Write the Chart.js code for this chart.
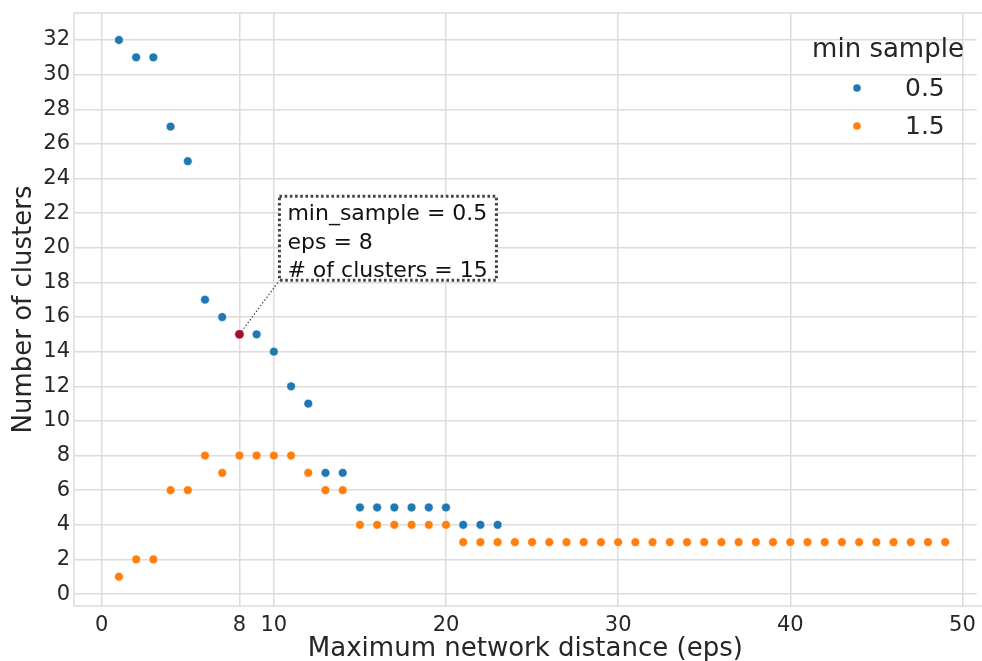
<!DOCTYPE html>
<html>
<head>
<meta charset="utf-8">
<script src="https://cdn.jsdelivr.net/npm/chart.js@4/dist/chart.umd.min.js"></script>
<style>
  html, body { margin: 0; padding: 0; background: #ffffff; overflow: hidden; }
  #wrap { position: relative; width: 982px; height: 661px; }
</style>
</head>
<body>
<div id="wrap"><canvas id="c" width="982" height="661"></canvas></div>
<script>
// ---- data ----
const epsBlue = [1,2,3,4,5,6,7,8,9,10,11,12,13,14,15,16,17,18,19,20,21,22,23];
const clustersBlue = [32,31,31,27,25,17,16,15,15,14,12,11,7,7,5,5,5,5,5,5,4,4,4];
const epsOrange = [1,2,3,4,5,6,7,8,9,10,11,12,13,14,15,16,17,18,19,20,21,22,23,24,25,26,27,28,29,30,31,32,33,34,35,36,37,38,39,40,41,42,43,44,45,46,47,48,49];
const clustersOrange = [1,2,2,6,6,8,7,8,8,8,8,7,6,6,4,4,4,4,4,4,3,3,3,3,3,3,3,3,3,3,3,3,3,3,3,3,3,3,3,3,3,3,3,3,3,3,3,3,3];
const seriesLabels = ['0.5', '1.5'];
const legendTitle = 'min sample';
const highlightEps = 8;
const highlightClusters = 15;
const annotationLines = ['min_sample = 0.5', 'eps = 8', '# of clusters = 15'];
const xTicks = [0, 8, 10, 20, 30, 40, 50];
const yTicks = [0,2,4,6,8,10,12,14,16,18,20,22,24,26,28,30,32];

const BLUE = '#1f77b4', ORANGE = '#ff7f0e', RED = '#a50f2e';
const TXT = '#262626', GRID = '#dcdcdc';
const FONT = "'DejaVu Sans', sans-serif";

const toPts = (xs, ys) => xs.map((x, i) => ({x: x, y: ys[i]}));

const overlay = {
  id: 'overlay',
  afterDraw(chart) {
    const ctx = chart.ctx;
    const ca = chart.chartArea;
    const xs = chart.scales.x, ys = chart.scales.y;
    ctx.save();
    // frame (top, left, bottom), right edge runs off the canvas
    ctx.strokeStyle = GRID; ctx.lineWidth = 1.5;
    ctx.beginPath();
    ctx.moveTo(chart.width, ca.top); ctx.lineTo(ca.left, ca.top);
    ctx.lineTo(ca.left, ca.bottom); ctx.lineTo(chart.width, ca.bottom);
    ctx.stroke();

    // annotation
    const px = xs.getPixelForValue(highlightEps);
    const py = ys.getPixelForValue(highlightClusters);
    const bx = px + 40, by = py - 54; // bottom-left corner of box
    const bw = 217, bh = 84;
    ctx.strokeStyle = '#444444';
    ctx.lineWidth = 1.2;
    ctx.setLineDash([1.5, 2]);
    ctx.beginPath(); ctx.moveTo(px, py); ctx.lineTo(bx, by); ctx.stroke();
    ctx.fillStyle = '#ffffff';
    ctx.fillRect(bx, by - bh, bw, bh);
    ctx.lineWidth = 3;
    ctx.setLineDash([2.6, 2.6]);
    ctx.strokeRect(bx, by - bh, bw, bh);
    ctx.setLineDash([]);
    ctx.fillStyle = '#111111';
    ctx.font = '22px ' + FONT;
    ctx.textAlign = 'left'; ctx.textBaseline = 'alphabetic';
    annotationLines.forEach((t, i) => ctx.fillText(t, bx + 8, by - bh + 24 + i * 28.5));

    // legend
    ctx.fillStyle = TXT;
    ctx.font = '26px ' + FONT;
    ctx.textAlign = 'center';
    ctx.fillText(legendTitle, 888, 57);
    const cols = [BLUE, ORANGE];
    ctx.font = '25px ' + FONT;
    ctx.textAlign = 'left';
    seriesLabels.forEach((lab, i) => {
      const yy = 88 + i * 38;
      ctx.fillStyle = cols[i];
      ctx.beginPath(); ctx.arc(857, yy, 3.8, 0, Math.PI * 2); ctx.fill();
      ctx.fillStyle = TXT;
      ctx.fillText(lab, 905, yy + 8);
    });
    ctx.restore();
  }
};

new Chart(document.getElementById('c'), {
  type: 'scatter',
  data: {
    datasets: [
      { label: seriesLabels[0], data: toPts(epsBlue, clustersBlue), backgroundColor: BLUE,
        borderColor: '#ffffff', borderWidth: 0.6, pointRadius: 4.4, order: 3 },
      { label: seriesLabels[1], data: toPts(epsOrange, clustersOrange), backgroundColor: ORANGE,
        borderColor: '#ffffff', borderWidth: 0.6, pointRadius: 4.4, order: 2 },
      { label: 'selected', data: [{x: highlightEps, y: highlightClusters}], backgroundColor: RED,
        borderColor: '#ffffff', borderWidth: 0.6, pointRadius: 4.7, order: 1 }
    ]
  },
  options: {
    responsive: false,
    animation: false,
    layout: { padding: { top: 13, right: 0, left: 0, bottom: 0 } },
    plugins: { legend: { display: false }, tooltip: { enabled: false } },
    scales: {
      x: {
        type: 'linear', min: -1.61, max: 50.83,
        afterBuildTicks: (s) => { s.ticks = xTicks.map(v => ({value: v})); },
        afterFit: (s) => { s.height = 55; s.paddingLeft = 0; s.paddingRight = 0; },
        grid: { color: GRID, lineWidth: 1.5, drawTicks: false },
        border: { display: false },
        ticks: { color: TXT, font: { family: FONT, size: 21 }, padding: 7, maxRotation: 0, autoSkip: false },
        title: { display: true, text: 'Maximum network distance (eps)', color: TXT,
                 font: { family: FONT, size: 26 }, padding: { top: 0, bottom: -4 } }
      },
      y: {
        type: 'linear', min: -0.69, max: 33.56,
        afterBuildTicks: (s) => { s.ticks = yTicks.map(v => ({value: v})); },
        afterFit: (s) => { s.width = 74; s.paddingTop = 0; s.paddingBottom = 0; },
        grid: { color: GRID, lineWidth: 1.5, drawTicks: false },
        border: { display: false },
        ticks: { color: TXT, font: { family: FONT, size: 21 }, padding: 4 },
        title: { display: true, text: 'Number of clusters', color: TXT,
                 font: { family: FONT, size: 26 }, padding: { top: 9, bottom: 0 } }
      }
    }
  },
  plugins: [overlay]
});
</script>
</body>
</html>
